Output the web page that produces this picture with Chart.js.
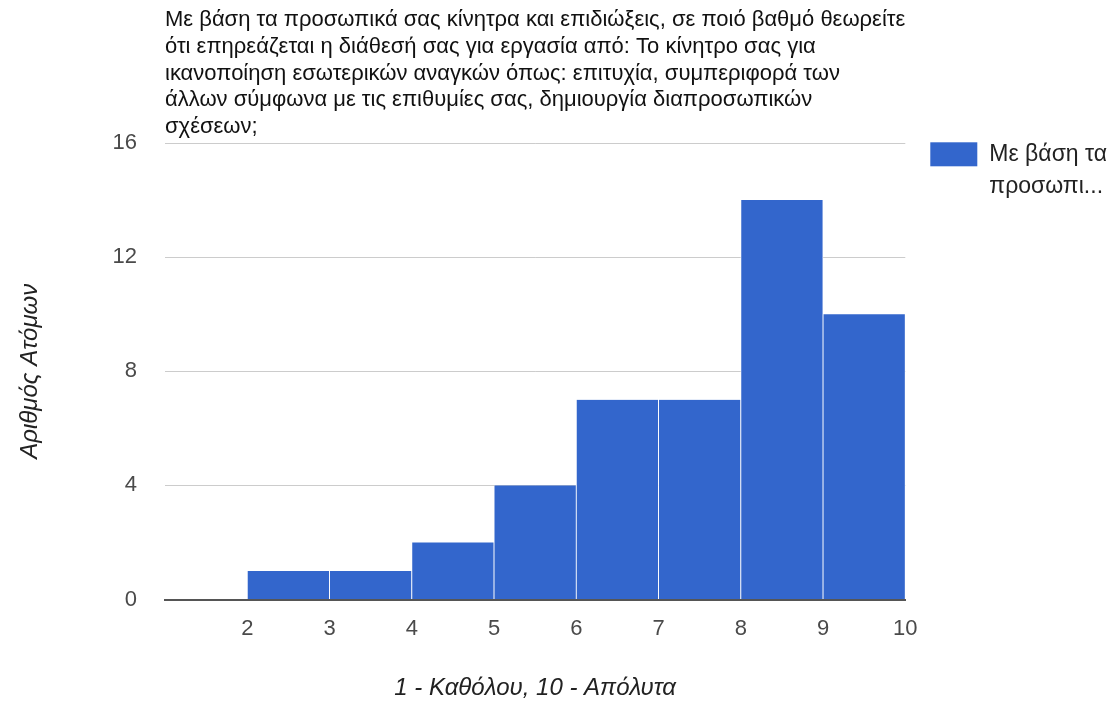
<!DOCTYPE html>
<html lang="el">
<head>
<meta charset="utf-8">
<title>Αριθμός Ατόμων</title>
<script src="https://cdn.jsdelivr.net/npm/chart.js@4/dist/chart.umd.min.js"></script>
<style>
  html, body { margin: 0; padding: 0; background: #ffffff; }
  #wrap { width: 1117px; height: 704px; position: relative; }
</style>
</head>
<body>
<div id="wrap"><canvas id="chart" width="1117" height="704"></canvas></div>
<script>
// Question text shown above the plot, one entry per line
const titleLines = [
  'Με βάση τα προσωπικά σας κίνητρα και επιδιώξεις, σε ποιό βαθμό θεωρείτε',
  'ότι επηρεάζεται η διάθεσή σας για εργασία από: Το κίνητρο σας για',
  'ικανοποίηση εσωτερικών αναγκών όπως: επιτυχία, συμπεριφορά των',
  'άλλων σύμφωνα με τις επιθυμίες σας, δημιουργία διαπροσωπικών',
  'σχέσεων;'
];
const seriesName = 'Με βάση τα προσωπικά σας κίνητρα και επιδιώξεις, σε ποιό βαθμό θεωρείτε ότι επηρεάζεται η διάθεσή σας για εργασία από: Το κίνητρο σας για ικανοποίηση εσωτερικών αναγκών όπως: επιτυχία, συμπεριφορά των άλλων σύμφωνα με τις επιθυμίες σας, δημιουργία διαπροσωπικών σχέσεων;';
const legendLines = ['Με βάση τα', 'προσωπι...'];

// Histogram bins (score ranges) and number of respondents in each
const binLow  = [1, 2, 3, 4, 5, 6, 7, 8, 9];
const binHigh = [2, 3, 4, 5, 6, 7, 8, 9, 10];
const counts  = [0, 1, 1, 2, 4, 7, 7, 14, 10];

// Axis ticks
const xTickLabels = [2, 3, 4, 5, 6, 7, 8, 9, 10];
const yTicks = [0, 4, 8, 12, 16];

const xTitle = '1 - Καθόλου, 10 - Απόλυτα';
const yTitle = 'Αριθμός Ατόμων';

const FONT = '"Liberation Sans", Arial, Helvetica, sans-serif';
const BAR_BLUE = '#3366cc';

const points = binLow.map((lo, i) => ({ x: (lo + binHigh[i]) / 2, y: counts[i] }));

// Legend at the right of the plot: swatch plus a two-line, truncated label
const sideLegend = {
  id: 'sideLegend',
  afterDraw(chart, args, opts) {
    const ctx = chart.ctx;
    const area = chart.chartArea;
    const x0 = area.right + opts.offsetX;
    const y0 = area.top - 0.7;
    ctx.save();
    ctx.fillStyle = opts.boxColor;
    ctx.fillRect(x0, y0, opts.boxWidth, opts.boxHeight);
    ctx.fillStyle = opts.color;
    ctx.font = opts.fontSize + 'px ' + FONT;
    ctx.textBaseline = 'middle';
    ctx.textAlign = 'left';
    opts.lines.forEach((line, i) => {
      ctx.fillText(line, x0 + opts.boxWidth + opts.gap, y0 + opts.firstLineY + i * opts.lineStep);
    });
    ctx.restore();
  }
};

new Chart(document.getElementById('chart'), {
  type: 'bar',
  data: {
    datasets: [{
      label: seriesName,
      data: points,
      backgroundColor: BAR_BLUE,
      borderColor: '#ffffff',
      borderWidth: { left: 0.8, right: 0.8, top: 0, bottom: 0 },
      borderSkipped: false,
      categoryPercentage: 1.0,
      barPercentage: 1.0
    }]
  },
  options: {
    responsive: false,
    animation: false,
    devicePixelRatio: 1,
    layout: { padding: { top: 0, left: 0, bottom: 0, right: 211.7 } },
    plugins: {
      legend: { display: false },
      tooltip: { enabled: false },
      title: {
        display: true,
        text: titleLines,
        align: 'start',
        fullSize: false,
        color: '#111',
        font: { family: FONT, size: 22, weight: 'normal', lineHeight: 26.75 / 22 },
        padding: { top: 6.6, bottom: 2.65 }
      },
      sideLegend: {
        lines: legendLines,
        boxColor: BAR_BLUE,
        color: '#222',
        fontSize: 23,
        offsetX: 25,
        boxWidth: 47,
        boxHeight: 24,
        gap: 12,
        firstLineY: 12.5,
        lineStep: 32
      }
    },
    scales: {
      x: {
        type: 'linear',
        position: 'bottom',
        min: 1,
        max: 10,
        offset: false,
        z: 1,
        grid: { display: false, drawTicks: false, offset: false },
        border: { display: true, color: '#555', width: 2 },
        ticks: {
          stepSize: 1,
          padding: 15.8,
          color: '#4a4a4a',
          font: { family: FONT, size: 22 },
          maxRotation: 0,
          autoSkip: false,
          callback: (v) => xTickLabels.includes(v) ? String(v) : ''
        },
        title: {
          display: true,
          text: xTitle,
          color: '#222',
          font: { family: FONT, size: 24, style: 'italic' },
          padding: { top: 0, bottom: 1.1 }
        },
        afterFit(scale) { scale.height = 104.5; }
      },
      y: {
        min: 0,
        max: 16,
        grid: {
          drawTicks: false,
          color: (c) => c.tick && c.tick.value === 0 ? '#555' : '#cccccc',
          lineWidth: 1
        },
        border: { display: false },
        afterBuildTicks(scale) { scale.ticks = yTicks.map(v => ({ value: v })); },
        ticks: {
          padding: 28,
          color: '#4a4a4a',
          font: { family: FONT, size: 22 }
        },
        title: {
          display: true,
          text: yTitle,
          color: '#222',
          font: { family: FONT, size: 24, style: 'italic' },
          padding: { top: 15.6, bottom: 0 }
        },
        afterFit(scale) { scale.width = 165; }
      }
    }
  },
  plugins: [sideLegend]
});
</script>
</body>
</html>
